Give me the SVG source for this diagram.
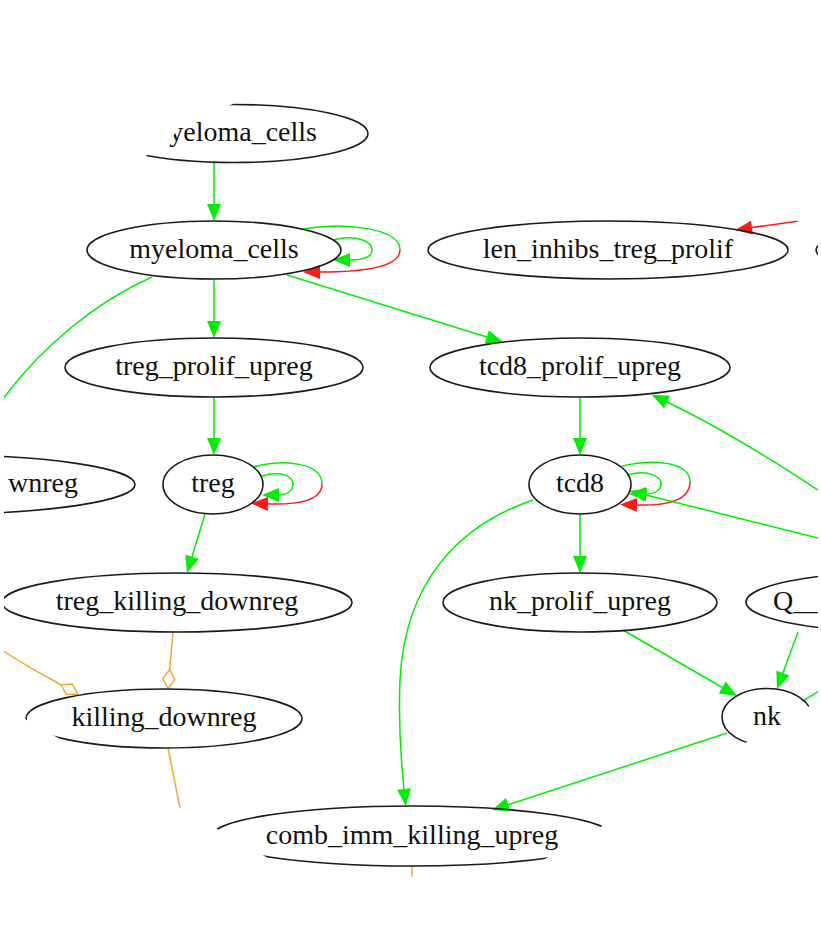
<svg xmlns="http://www.w3.org/2000/svg" width="821" height="939" viewBox="0 0 821 939">
<style>
.node ellipse{fill:none;stroke:#1a1a1a;stroke-width:1.6;clip-path:url(#hex)}
.node text{font-family:"Liberation Serif","Times New Roman",serif;font-size:28px;fill:#111;text-anchor:middle;clip-path:url(#hexT)}
#edges{clip-path:url(#hex)}
.e{fill:none;stroke-width:1.5}
.g{stroke:#00ee00}
.r{stroke:#ff1a1a}
.o{stroke:#f0a830}
</style>
<defs>
<clipPath id="hex">
<polygon points="413,0 818,233 818,701 514,877 301,877 4,707 4,236 137,162 172,138 182,122 233,104"/>
</clipPath>
<clipPath id="hexT">
<polygon points="413,0 818,233 818,712 520,885 301,885 4,707 4,236 137,162 172,138 182,122 233,104"/>
</clipPath>
<marker id="ag" markerUnits="userSpaceOnUse" markerWidth="18" markerHeight="14" refX="0" refY="7" orient="auto" overflow="visible"><path d="M0,0 L17,7 L0,14 z" fill="#00ee00"/></marker>
<marker id="ar" markerUnits="userSpaceOnUse" markerWidth="18" markerHeight="14" refX="0" refY="7" orient="auto" overflow="visible"><path d="M0,0 L17,7 L0,14 z" fill="#ff1a1a"/></marker>
<marker id="dm" markerUnits="userSpaceOnUse" markerWidth="20" markerHeight="14" refX="0" refY="7" orient="auto" overflow="visible"><path d="M0,7 L9.5,1 L19,7 L9.5,13 z" fill="#fff" stroke="#f0a830" stroke-width="1.5"/></marker>
</defs>
<rect width="821" height="939" fill="#fff"/>
<g id="edges">
<path class="e g" d="M214 163 L214 204" marker-end="url(#ag)"/>
<path class="e g" d="M214 279.5 L214 321" marker-end="url(#ag)"/>
<path class="e g" d="M287 275 L486.8 337" marker-end="url(#ag)"/>
<path class="e g" d="M214 397 L214 438" marker-end="url(#ag)"/>
<path class="e g" d="M580 397 L580 438" marker-end="url(#ag)"/>
<path class="e g" d="M580 514 L580 556" marker-end="url(#ag)"/>
<path class="e g" d="M205 514 L192 556.7" marker-end="url(#ag)"/>
<path class="e g" d="M623 630 L722.3 687.5" marker-end="url(#ag)"/>
<path class="e g" d="M798 632 L782.9 673" marker-end="url(#ag)"/>
<path class="e g" d="M727 733 L508.2 804.7" marker-end="url(#ag)"/>
<path class="e g" d="M533 500 C460 525 405 580 400 680 C398 730 402 770 404 789" marker-end="url(#ag)"/>
<path class="e g" d="M830 498 C770 458 715 425 667 402" marker-end="url(#ag)"/>
<path class="e g" d="M830 541 L646 495" marker-end="url(#ag)"/>
<path class="e r" d="M840 215 L752 227.6" marker-end="url(#ar)"/>
<path class="e g" d="M152 277 C100 300 40 345 -5 410"/>
<path class="e g" d="M802 701 C808 698 814 694 830 684"/>
<path class="e g" d="M333 240 C358 234 372 242 372 250 C372 257 364 260 350 260" marker-end="url(#ag)"/>
<path class="e g" d="M303 229 C345 222 400 228 400 250"/>
<path class="e r" d="M400 250 C400 266 368 272 320 272" marker-end="url(#ar)"/>
<path class="e g" d="M262 476 C282 470 293 477 293 484 C293 490 288 495 279 495" marker-end="url(#ag)"/>
<path class="e g" d="M253.5 467 C287 458 322 464 322 484"/>
<path class="e r" d="M322 484 C322 500 300 505 268 504" marker-end="url(#ar)"/>
<path class="e g" d="M627 475 C650 469 661 477 661 484 C661 490 655 494 646 494" marker-end="url(#ag)"/>
<path class="e g" d="M622 466 C657 458 690 463 690 482"/>
<path class="e r" d="M690 482 C690 500 668 506 637 505" marker-end="url(#ar)"/>
<path class="e o" d="M173 632 L169.7 669.6" marker-end="url(#dm)"/>
<path class="e o" d="M-5 645 C15 660 40 673 61 684.7" marker-end="url(#dm)"/>
<path class="e o" d="M168 748 L186 838"/>
<path class="e o" d="M412 866 L412 900"/>
</g>
<g id="n_myeloma_src" class="node"><ellipse cx="234" cy="133.5" rx="134" ry="29"/><text x="317" y="141" style="text-anchor:end">yeloma_cells</text></g>
<g id="n_myeloma" class="node"><ellipse cx="214" cy="250" rx="127" ry="29"/><text x="214" y="257.5">myeloma_cells</text></g>
<g id="n_len" class="node"><ellipse cx="608" cy="250" rx="180" ry="29"/><text x="608" y="257.5">len_inhibs_treg_prolif</text></g>
<g id="n_right_top" class="node"><ellipse cx="1000" cy="250" rx="184" ry="29"/></g>
<g id="n_treg_prolif" class="node"><ellipse cx="214" cy="367.5" rx="149" ry="29.5"/><text x="214" y="375">treg_prolif_upreg</text></g>
<g id="n_tcd8_prolif" class="node"><ellipse cx="580" cy="367.5" rx="150" ry="29.5"/><text x="580" y="375">tcd8_prolif_upreg</text></g>
<g id="n_downreg_left" class="node"><ellipse cx="-60" cy="484.5" rx="195" ry="29.5"/><text x="78" y="492" style="text-anchor:end">wnreg</text></g>
<g id="n_treg" class="node"><ellipse cx="213" cy="484.5" rx="50" ry="29.5"/><text x="213" y="492">treg</text></g>
<g id="n_tcd8" class="node"><ellipse cx="580" cy="484.5" rx="51" ry="29.5"/><text x="580" y="492">tcd8</text></g>
<g id="n_treg_killing" class="node"><ellipse cx="177" cy="602.5" rx="175" ry="29.5"/><text x="177" y="610">treg_killing_downreg</text></g>
<g id="n_nk_prolif" class="node"><ellipse cx="580" cy="602.5" rx="137" ry="29.5"/><text x="580" y="610">nk_prolif_upreg</text></g>
<g id="n_q" class="node"><ellipse cx="900" cy="602" rx="154" ry="30"/><text x="773" y="610" style="text-anchor:start">Q__</text></g>
<g id="n_killing" class="node"><ellipse cx="164" cy="718.5" rx="138" ry="29.5"/><text x="164" y="726">killing_downreg</text></g>
<g id="n_nk" class="node"><ellipse cx="767" cy="717" rx="45" ry="28.5"/><text x="767" y="724.5">nk</text></g>
<g id="n_comb" class="node"><ellipse cx="412" cy="836" rx="200" ry="30"/><text x="412" y="843.5">comb_imm_killing_upreg</text></g>
</svg>
